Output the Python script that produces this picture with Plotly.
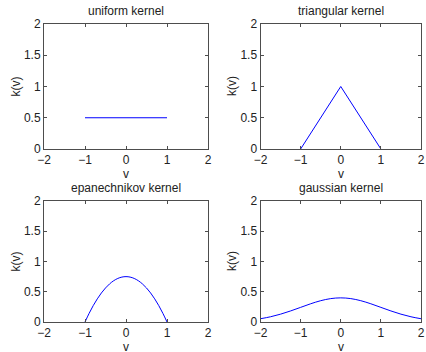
import plotly.graph_objects as go

# ---- data ----
uni_v = [-1, 1]
uni_k = [0.5, 0.5]

tri_v = [-1, 0, 1]
tri_k = [0, 1, 0]

epa_v = [-1.0, -0.9, -0.8, -0.7, -0.6, -0.5, -0.4, -0.3, -0.2, -0.1, 0.0,
         0.1, 0.2, 0.3, 0.4, 0.5, 0.6, 0.7, 0.8, 0.9, 1.0]
epa_k = [0.0, 0.1425, 0.27, 0.3825, 0.48, 0.5625, 0.63, 0.6825, 0.72, 0.7425, 0.75,
         0.7425, 0.72, 0.6825, 0.63, 0.5625, 0.48, 0.3825, 0.27, 0.1425, 0.0]

gau_v = [-2.0, -1.75, -1.5, -1.25, -1.0, -0.75, -0.5, -0.25, 0.0,
         0.25, 0.5, 0.75, 1.0, 1.25, 1.5, 1.75, 2.0]
gau_k = [0.054, 0.0863, 0.1295, 0.1826, 0.242, 0.3011, 0.3521, 0.3867, 0.3989,
         0.3867, 0.3521, 0.3011, 0.242, 0.1826, 0.1295, 0.0863, 0.054]

titles = ["uniform kernel", "triangular kernel", "epanechnikov kernel", "gaussian kernel"]
x_label = "v"
y_label = "k(v)"
x_ticks = [-2, -1, 0, 1, 2]
x_tick_text = ["\u22122", "\u22121", "0", "1", "2"]
y_ticks = [0, 0.5, 1, 1.5, 2]
y_tick_text = ["0", "0.5", "1", "1.5", "2"]

W, H = 426, 352
FONT = "Liberation Sans, Arial, sans-serif"
FS = 12
LINE = "#0000ff"
AX = "#4d4d4d"
TXT = "#222"

# pixel boxes (left, right, top, bottom)
boxes = [(44, 208, 24, 149), (260.5, 421, 24, 149),
         (44, 208, 201, 322), (260.5, 421, 201, 322)]

series = [(uni_v, uni_k), (tri_v, tri_k), (epa_v, epa_k), (gau_v, gau_k)]

fig = go.Figure()
layout = dict(width=W, height=H, margin=dict(l=0, r=0, t=0, b=0),
              paper_bgcolor="white", plot_bgcolor="white", showlegend=False,
              font=dict(family=FONT, size=FS, color=TXT))
annotations = []
for i, ((l, r, t, b), (xv, yv), ttl) in enumerate(zip(boxes, series, titles)):
    n = "" if i == 0 else str(i + 1)
    fig.add_trace(go.Scatter(x=xv, y=yv, mode="lines",
                             line=dict(color=LINE, width=1, shape="spline" if i >= 2 else "linear"),
                             xaxis="x" + n, yaxis="y" + n, hoverinfo="skip"))
    common = dict(showgrid=False, zeroline=False, showline=True, linecolor=AX, linewidth=1,
                  mirror="ticks", ticks="inside", ticklen=3, tickcolor=AX, automargin=False,
                  tickfont=dict(family=FONT, size=FS, color=TXT))
    layout["xaxis" + n] = dict(common, domain=[l / W, r / W], range=[-2, 2], anchor="y" + n,
                               tickvals=x_ticks, ticktext=x_tick_text)
    layout["yaxis" + n] = dict(common, domain=[1 - b / H, 1 - t / H], range=[0, 2], anchor="x" + n,
                               tickvals=y_ticks, ticktext=y_tick_text)
    f = dict(family=FONT, size=FS, color=TXT)
    annotations.append(dict(text=ttl, x=(l + r) / 2 / W, y=1 - (t - 4) / H, xref="paper", yref="paper",
                            xanchor="center", yanchor="bottom", showarrow=False, font=f))
    annotations.append(dict(text=x_label, x=(l + r) / 2 / W, y=1 - (b + 15.5) / H, xref="paper",
                            yref="paper", xanchor="center", yanchor="top", showarrow=False, font=f))
    annotations.append(dict(text=y_label, x=(l - 29) / W, y=1 - (t + b) / 2 / H, xref="paper",
                            yref="paper", xanchor="center", yanchor="middle", textangle=-90,
                            showarrow=False, font=f))
layout["annotations"] = annotations
fig.update_layout(**layout)
fig.write_html("out.html", config={"displayModeBar": False, "staticPlot": True},
               post_script="document.body.style.margin='0';document.body.style.overflow='hidden';")
